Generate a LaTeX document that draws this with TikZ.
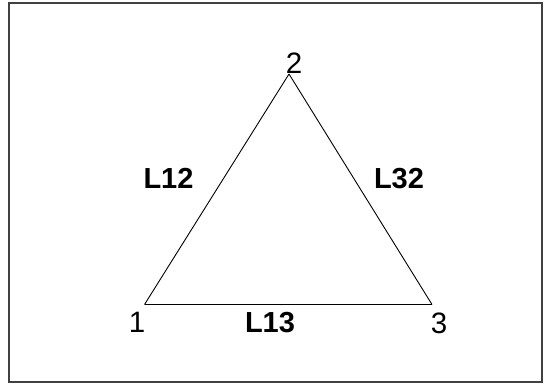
\documentclass[tikz,border=0pt]{standalone}
\usepackage{fontspec}
\setmainfont{Liberation Sans}
\begin{document}
\begin{tikzpicture}[x=1pt,y=-1pt,
  vlabel/.style={font=\fontsize{29.5}{29.5}\selectfont, inner sep=0pt, anchor=center},
  elabel/.style={font=\fontsize{29}{29}\selectfont\bfseries, inner sep=0pt, anchor=center},
  edge/.style={draw=black, line width=0.9pt},
  frame/.style={draw=black!75, line width=1.6pt}]
\useasboundingbox (0,0) rectangle (548,384);
\draw[frame] (8.8,2.8) rectangle (542.2,382.2);
\coordinate (v1) at (144.5,304.5);
\coordinate (v2) at (289,74);
\coordinate (v3) at (432,304.5);
\draw[edge] (v1) -- (v2);
\draw[edge] (v2) -- (v3);
\draw[edge, line width=1.2pt] (v1) -- (v3);
\node[vlabel] (n1) at (137,322.5) {1};
\node[vlabel] (n2) at (294,63) {2};
\node[vlabel] (n3) at (439,323) {3};
\node[elabel] (l12) at (168.5,178.5) {L12};
\node[elabel] (l32) at (399,178.5) {L32};
\node[elabel] (l13) at (270,322.5) {L13};
\end{tikzpicture}
\end{document}
